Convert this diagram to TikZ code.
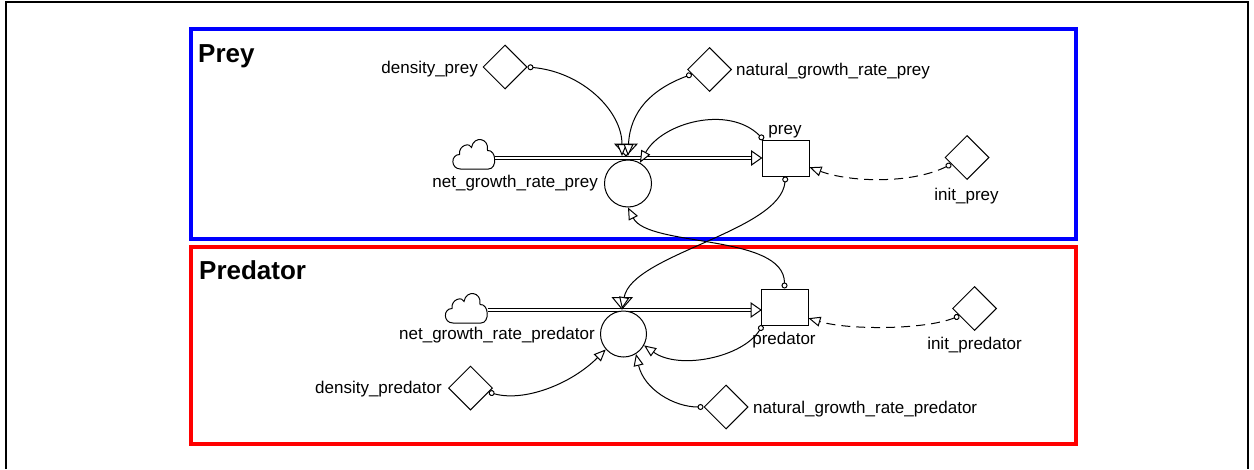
\documentclass[tikz,border=0pt]{standalone}
\usepackage{fontspec}
\setmainfont{Liberation Sans}
\usetikzlibrary{arrows.meta,shapes.geometric}
\tikzset{
  srccloud/.pic={\draw[line width=1pt, fill=white] (-13,15.5) .. controls (-23,15.5) and (-23,1) .. (-14,1) .. controls (-15,-9) and (-3,-11) .. (-2,-6) .. controls (0,-18) and (16,-16) .. (14,-3) .. controls (23,-4) and (24,15.5) .. (15,15.5) -- cycle;},
  lbl/.style={font=\fontsize{17}{20}\selectfont, inner sep=0pt},
  ttl/.style={font=\fontsize{26}{30}\selectfont\bfseries, inner sep=0pt},
  aux/.style={draw, shape=diamond, aspect=1, minimum width=44pt, minimum height=44pt, inner sep=0pt, line width=1pt, fill=white},
  stockbox/.style={draw, rectangle, minimum width=47pt, minimum height=36pt, inner sep=0pt, line width=1pt, fill=white},
  valve/.style={draw, circle, minimum size=47pt, inner sep=0pt, line width=1pt, fill=white},
  cloudbox/.style={inner sep=0pt, minimum width=43pt, minimum height=31pt},
  link/.style={line width=1pt, {Circle[open,length=6pt,width=6pt]}-{Triangle[length=12pt,width=10pt,fill=white]}},
  initlink/.style={link, dash pattern=on 9pt off 6pt},
  pipe/.style={double, double distance=2.5pt, line width=1pt},
  tri/.style={line width=1pt, fill=white}
}
\begin{document}
\begin{tikzpicture}[x=1pt,y=-1pt]
\useasboundingbox (0,0) rectangle (1254,469);
% frame and sector boxes
\draw[line width=1.5pt] (6,469) -- (6,2) -- (1248,2) -- (1248,469);
\draw[blue, line width=4pt] (190.5,29) rectangle (1076,239);
\draw[red, line width=4pt] (190.5,247) rectangle (1076,443.5);
\node[ttl, anchor=base west] (tprey) at (198,62) {Prey};
\node[ttl, anchor=base west] (tpred) at (199,279) {Predator};

% ---------- Prey ----------
\node[cloudbox] (cprey) at (473.5,153.5) {};
\pic at (cprey) {srccloud};
\node[stockbox] (prey) at (785.5,158) {};
\node[lbl, anchor=base] (lprey) at (785,134.5) {prey};
\draw[pipe] (cprey.east |- prey.west) -- ([xshift=-10pt]prey.west);
\draw[tri] (prey.west) -- ++(-10,-7) -- ++(0,14) -- cycle;
\node[valve] (vprey) at (628,183.5) {};
\node[lbl, anchor=base east] (lvprey) at (598,187.5) {net\_growth\_rate\_prey};
\coordinate (pinprey) at (626,156);
\draw[tri] (615,144) -- (637,144) -- (pinprey) -- cycle;
\node[aux] (dprey) at (505,67) {};
\node[lbl, anchor=base east] (ldprey) at (478,73.5) {density\_prey};
\node[aux] (nprey) at (709.5,69.5) {};
\node[lbl, anchor=base west] (lnprey) at (736,75) {natural\_growth\_rate\_prey};
\node[aux] (iprey) at (967,157.5) {};
\node[lbl, anchor=base] (liprey) at (966.5,200) {init\_prey};

% ---------- Predator ----------
\node[cloudbox] (cpred) at (466,307.5) {};
\pic at (cpred) {srccloud};
\node[stockbox] (pred) at (784.5,307) {};
\node[lbl, anchor=base] (lpred) at (784,344.5) {predator};
\coordinate (fpred) at (761,310);
\draw[pipe] (cpred.east |- fpred) -- ([xshift=-10pt]fpred);
\draw[tri] (fpred) -- ++(-10,-7) -- ++(0,14) -- cycle;
\node[valve, minimum size=46pt] (vpred) at (623.5,334) {};
\node[lbl, anchor=base east] (lvpred) at (595,339.5) {net\_growth\_rate\_predator};
\coordinate (pinpred) at (622,309);
\draw[tri] (612.5,297.5) -- (632,297.5) -- (pinpred) -- cycle;
\node[aux] (dpred) at (470.5,388) {};
\node[lbl, anchor=base east] (ldpred) at (442,393.5) {density\_predator};
\node[aux] (npred) at (726,407) {};
\node[lbl, anchor=base west] (lnpred) at (753,413.5) {natural\_growth\_rate\_predator};
\node[aux] (ipred) at (974.5,308.5) {};
\node[lbl, anchor=base] (lipred) at (974.5,349.5) {init\_predator};

% ---------- connectors ----------
\draw[link] (dprey.east) .. controls +(55,5) and +(0,-45) .. ([xshift=-4pt]pinprey);
\draw[link] (nprey.195) .. controls +(-40,15) and +(2,-45) .. ([xshift=2pt]pinprey);
\draw[link] ([xshift=2pt]prey.north west) .. controls +(-35,-35) and +(22,-40) .. (vprey.60);
\draw[link] (prey.south) .. controls +(-5,55) and +(10,-55) .. (pinpred);
\draw[link] (pred.north) .. controls +(0,-55) and +(20,40) .. (vprey.south);
\draw[initlink] (iprey.203) .. controls +(-40,20) and +(40,15) .. (prey.-21);

\draw[link] ([xshift=2pt]pred.south west) .. controls +(-20,32) and +(35,25) .. (vpred.-29);
\draw[link] (dpred.-13) .. controls +(35,10) and +(-35,35) .. (vpred.221);
\draw[link] (npred.west) .. controls +(-30,0) and +(8,35) .. (vpred.-58);
\draw[initlink] (ipred.206) .. controls +(-35,14) and +(40,12) .. (pred.-25);
\end{tikzpicture}
\end{document}
